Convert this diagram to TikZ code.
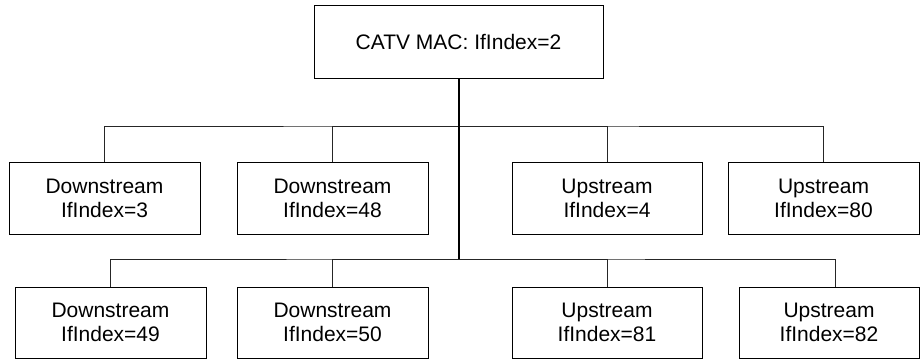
\documentclass[tikz,border=0pt]{standalone}
\usepackage{fontspec}
\setmainfont{Liberation Sans}
\begin{document}
\begin{tikzpicture}[x=1pt,y=-1pt,
  box/.style={draw=black, line width=1pt, inner sep=0pt, align=center,
    font=\fontsize{21}{24}\selectfont, minimum height=72pt, minimum width=191pt},
  link/.style={draw=black!85, line width=1pt},
  trunk/.style={draw=black, line width=2pt}]
  \useasboundingbox (0,0) rectangle (920,360);

  % root interface
  \node[box, minimum width=289pt, minimum height=73pt] (top) at (458.5,41.5) {CATV MAC: IfIndex=2};

  % first row of channels
  \node[box] (b1) at (104.5,198) {Downstream\\IfIndex=3};
  \node[box] (b2) at (332.5,198) {Downstream\\IfIndex=48};
  \node[box, minimum width=190pt] (b3) at (607,198) {Upstream\\IfIndex=4};
  \node[box] (b4) at (823.5,198) {Upstream\\IfIndex=80};

  % second row of channels
  \node[box, minimum height=71pt] (b5) at (110.5,322.5) {Downstream\\IfIndex=49};
  \node[box, minimum height=71pt] (b6) at (332.5,322.5) {Downstream\\IfIndex=50};
  \node[box, minimum height=71pt, minimum width=190pt] (b7) at (607,322.5) {Upstream\\IfIndex=81};
  \node[box, minimum height=71pt, minimum width=180pt] (b8) at (829,322.5) {Upstream\\IfIndex=82};

  % bus junctions on the trunk
  \coordinate (j1) at (458.5,126);
  \coordinate (j2) at (458.5,259);

  % branch lines
  \draw[link] (b1.north) |- (j1) -| (b4.north);
  \draw[link] (b2.north) |- (j1);
  \draw[link] (b3.north) |- (j1);
  \draw[link] (b5.north) |- (j2) -| ([xshift=6pt]b8.north);
  \draw[link] (b6.north) |- (j2);
  \draw[link] (b7.north) |- (j2);

  % trunk
  \draw[trunk] (top.south) -- (j2);
\end{tikzpicture}
\end{document}
